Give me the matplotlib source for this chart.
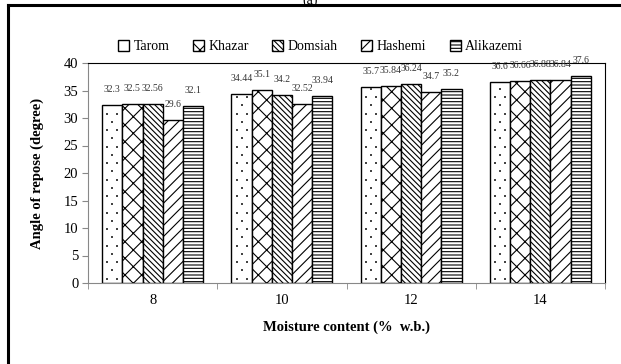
import matplotlib
matplotlib.use("Agg")
import matplotlib.pyplot as plt
import numpy as np
from matplotlib.lines import Line2D

plt.rcParams['font.family'] = ['Liberation Serif', 'DejaVu Serif']
plt.rcParams['hatch.linewidth'] = 0.8

categories = ['8', '10', '12', '14']
varieties = ['Tarom', 'Khazar', 'Domsiah', 'Hashemi', 'Alikazemi']
values = {
    'Tarom':     [32.3, 34.44, 35.7, 36.6],
    'Khazar':    [32.5, 35.1, 35.84, 36.66],
    'Domsiah':   [32.56, 34.2, 36.24, 36.88],
    'Hashemi':   [29.6, 32.52, 34.7, 36.84],
    'Alikazemi': [32.1, 33.94, 35.2, 37.6],
}
labels = {
    'Tarom':     ['32.3', '34.44', '35.7', '36.6'],
    'Khazar':    ['32.5', '35.1', '35.84', '36.66'],
    'Domsiah':   ['32.56', '34.2', '36.24', '36.88'],
    'Hashemi':   ['29.6', '32.52', '34.7', '36.84'],
    'Alikazemi': ['32.1', '33.94', '35.2', '37.6'],
}
hatches = ['', 'xx', '\\\\\\\\\\\\', '///', '-----']

fig = plt.figure(figsize=(6.21, 3.64), dpi=100)
ax = fig.add_axes([88/621, 1-283/364, (605-88)/621, (283-63)/364])

x = np.arange(len(categories))
bw = 0.156
for i, v in enumerate(varieties):
    pos = x + (i - 2) * bw
    ax.bar(pos, values[v], width=bw, facecolor='white', edgecolor='black',
           linewidth=1.0, hatch=hatches[i], label=v, zorder=2)
    if v == 'Tarom':
        # fine dotted texture inside each bar
        for p, val in zip(pos, values[v]):
            xs, ys = [], []
            for k, yy in enumerate(np.arange(0.8, val - 0.3, 1.5)):
                offs = [-0.25, 0.25] if k % 2 == 0 else [0.0]
                for o in offs:
                    xs.append(p + o * bw)
                    ys.append(yy)
            ax.scatter(xs, ys, s=0.6, color='#444444', marker='s', linewidths=0, zorder=3)
    for p, val, lab in zip(pos, values[v], labels[v]):
        ax.text(p, val + 2.0, lab, ha='center', va='bottom', fontsize=7, color='#333333')

ax.set_xlim(-0.5, len(categories) - 0.5)
ax.set_ylim(0, 40)
ax.set_yticks(np.arange(0, 41, 5))
ax.set_xticks(x)
ax.set_xticklabels(categories)
ax.set_xticks(np.arange(-0.5, len(categories), 1), minor=True)
ax.tick_params(axis='x', which='major', length=0, labelsize=10.5, pad=8)
ax.tick_params(axis='x', which='minor', length=4, color='#888888', direction='out')
ax.tick_params(axis='y', length=4, color='#888888', labelsize=10.5, pad=3)

ax.spines['left'].set_color('#888888')
ax.spines['bottom'].set_color('#888888')
ax.spines['top'].set_color('black')
ax.spines['right'].set_color('black')
for s in ax.spines.values():
    s.set_linewidth(0.8)

ax.set_xlabel('Moisture content (%  w.b.)', fontsize=10.5, fontweight='bold', labelpad=10)
ax.set_ylabel('Angle of repose (degree)', fontsize=10.5, fontweight='bold', labelpad=14)

leg = ax.legend(loc='lower center', bbox_to_anchor=(0.45, 1.02), ncol=5, frameon=False,
                fontsize=10, handlelength=0.8, handleheight=0.8, handletextpad=0.3,
                columnspacing=1.7, borderaxespad=0)

# outer frame
fig.add_artist(Line2D([8/621, 8/621], [0, 1-5/364], transform=fig.transFigure,
                      color='black', linewidth=2.2))
fig.add_artist(Line2D([8/621, 1], [1-5/364, 1-5/364], transform=fig.transFigure,
                      color='black', linewidth=2.2))
fig.text(0.5, 1.0, '(a)', ha='center', va='center', fontsize=10)

fig.savefig('out.png', dpi=100)
